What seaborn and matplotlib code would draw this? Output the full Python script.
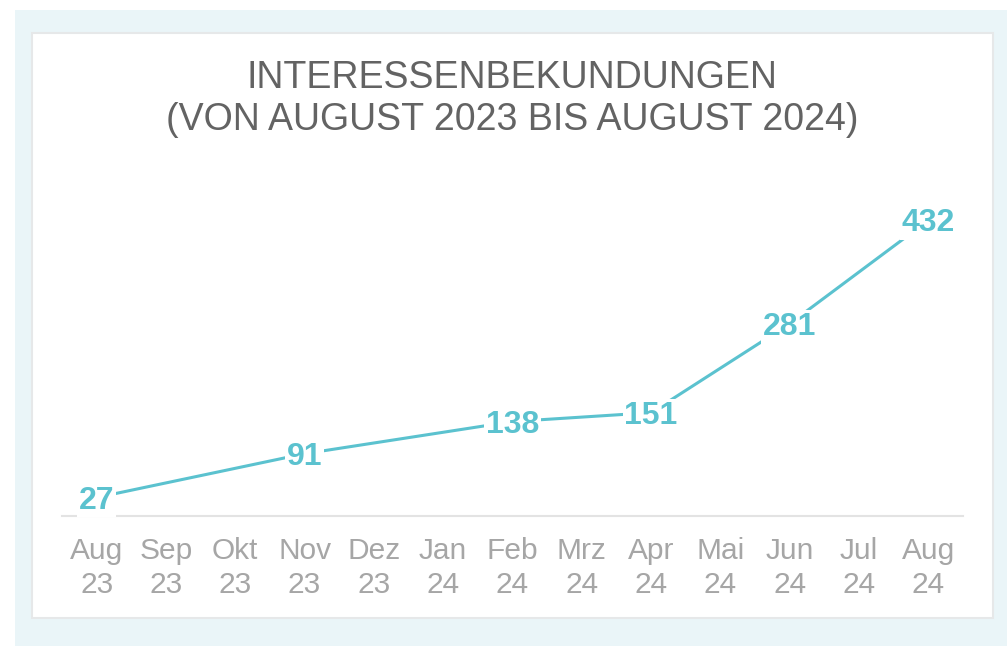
import numpy as np
import pandas as pd
import matplotlib
matplotlib.use("Agg")
import matplotlib.pyplot as plt
from matplotlib.patches import Rectangle
import seaborn as sns

months = ["Aug\n23", "Sep\n23", "Okt\n23", "Nov\n23", "Dez\n23", "Jan\n24", "Feb\n24",
          "Mrz\n24", "Apr\n24", "Mai\n24", "Jun\n24", "Jul\n24", "Aug\n24"]
values = [27, None, None, 91, None, None, 138, None, 151, None, 281, None, 432]
title = "INTERESSENBEKUNDUNGEN\n(VON AUGUST 2023 BIS AUGUST 2024)"

LINE = "#5BC2CF"
TITLE_C = "#636363"
TICK_C = "#A6A6A6"

sns.set_theme(style="white")
plt.rcParams['font.family'] = ['Liberation Sans', 'DejaVu Sans']

W, H = 1007, 646
fig = plt.figure(figsize=(W / 100, H / 100), dpi=100, facecolor="white")

# outer light blue frame and white panel
fig.patches.append(Rectangle((15 / W, 0), 1 - 15 / W, 1 - 10 / H, transform=fig.transFigure,
                             facecolor="#EAF5F8", edgecolor="none", zorder=-10))
fig.patches.append(Rectangle((32 / W, 1 - 618 / H), (993 - 32) / W, (618 - 33) / H,
                             transform=fig.transFigure, facecolor="white",
                             edgecolor="#E6E8E9", linewidth=1.5, zorder=-9))

ax = fig.add_axes([62 / W, 1 - 516 / H, 901 / W, (516 - 208) / H])
ax.set_facecolor("none")
ax.patch.set_visible(False)

df = pd.DataFrame({"pos": np.arange(len(months)), "month": months,
                   "value": pd.array(values, dtype="Float64")})
dd = df.dropna().astype({"value": float})

sns.lineplot(data=dd, x="pos", y="value", ax=ax, color=LINE, linewidth=2.2, sort=False)

for _, r in dd.iterrows():
    ax.annotate(f"{int(r['value'])}", (r["pos"], r["value"]), xytext=(0, -2.2),
                textcoords="offset points", ha="center", va="center",
                fontsize=23, fontweight="bold", color=LINE,
                bbox=dict(boxstyle="square,pad=0.06", facecolor="white", edgecolor="none"),
                zorder=5)

ax.set_xlim(-0.5, len(months) - 0.5)
ax.set_ylim(0, 450)
ax.set_xticks(df["pos"])
ax.set_xticklabels(months, fontsize=21.5, color=TICK_C, linespacing=1.3)
ax.set_yticks([])
ax.set_xlabel("")
ax.set_ylabel("")
ax.tick_params(axis="x", length=0, pad=15)
for s in ["top", "right", "left"]:
    ax.spines[s].set_visible(False)
ax.spines["bottom"].set_color("#E3E3E3")
ax.spines["bottom"].set_linewidth(1.5)

fig.text(512 / W, 1 - 99 / H, title, ha="center", va="center", fontsize=27,
         color=TITLE_C, linespacing=1.2)

fig.savefig("out.png", dpi=100, facecolor="white")
